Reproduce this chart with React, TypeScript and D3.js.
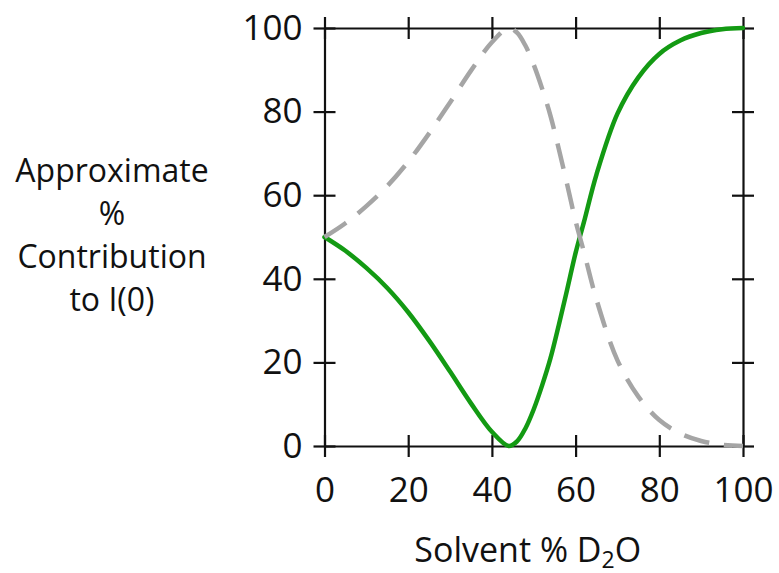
import React, { useEffect, useRef } from "react";
import * as d3 from "d3";

// % D2O in the solvent
const solvent = [0, 5, 10, 15, 20, 25, 30, 35, 40, 44, 46, 48, 50, 52, 54, 56, 58, 60, 62, 65, 70, 75, 80, 85, 90, 95, 100];
// green solid curve
const greenVals = [50, 46.7, 42.6, 37.8, 32, 25.2, 17.8, 10.2, 3.4, 0, 1.1, 4.2, 8.8, 14.5, 21, 29, 37.5, 46.2, 53.6, 65, 79.5, 88.2, 93.8, 97, 98.8, 99.7, 100];
// gray dashed curve
const grayVals = [50, 53.3, 57.4, 62.2, 68, 74.8, 82.2, 89.8, 96.6, 100, 98.9, 95.8, 91.2, 85.5, 79, 71, 62.5, 53.8, 46.4, 35, 20.5, 11.8, 6.2, 3, 1.2, 0.3, 0];

const xTicks = [0, 20, 40, 60, 80, 100];
const yTicks = [0, 20, 40, 60, 80, 100];
const yTitle = ["Approximate", "%", "Contribution", "to I(0)"];

const App = () => {
  const ref = useRef<SVGSVGElement>(null);

  useEffect(() => {
    const width = 779,
      height = 573,
      left = 324.5,
      right = 743,
      top = 28,
      bottom = 446,
      font = "'Open Sans', 'DejaVu Sans', sans-serif";

    const x = d3.scaleLinear().domain([0, 100]).range([left, right]);
    const y = d3.scaleLinear().domain([0, 100]).range([bottom, top]);

    const svg = d3.select(ref.current);
    svg.selectAll("*").remove();
    svg.attr("width", width).attr("height", height);

    const styleAxis = (g: any, horizontal: boolean) => {
      g.select(".domain").attr("stroke", "#111").attr("stroke-width", 2.2);
      g.selectAll(".tick line")
        .attr("stroke", "#111")
        .attr("stroke-width", 2.2)
        .attr(horizontal ? "y1" : "x1", -11)
        .attr(horizontal ? "y2" : "x2", 11);
      g.selectAll(".tick text")
        .attr("font-family", font)
        .attr("font-size", 35)
        .attr("fill", "#111");
    };

    // bottom
    const gb = svg
      .append("g")
      .attr("transform", "translate(0," + bottom + ")")
      .call(d3.axisBottom(x).tickValues(xTicks).tickSize(11).tickSizeOuter(0).tickPadding(20));
    styleAxis(gb, true);

    // left
    const gl = svg
      .append("g")
      .attr("transform", "translate(" + left + ",0)")
      .call(d3.axisLeft(y).tickValues(yTicks).tickSize(11).tickSizeOuter(0).tickPadding(11));
    styleAxis(gl, false);

    // top
    const gt = svg
      .append("g")
      .attr("transform", "translate(0," + top + ")")
      .call(d3.axisTop(x).tickValues(xTicks).tickSize(11).tickSizeOuter(0).tickFormat(() => ""));
    styleAxis(gt, true);

    // right
    const gr = svg
      .append("g")
      .attr("transform", "translate(" + right + ",0)")
      .call(d3.axisRight(y).tickValues(yTicks).tickSize(11).tickSizeOuter(0).tickFormat(() => ""));
    styleAxis(gr, false);

    const line = d3
      .line<number>()
      .x((d, i) => x(solvent[i]))
      .y(d => y(d))
      .curve(d3.curveCatmullRom.alpha(0.5));

    svg
      .append("path")
      .attr("d", line(greenVals))
      .attr("fill", "none")
      .attr("stroke", "#139a13")
      .attr("stroke-width", 4.5)
      .attr("stroke-linecap", "round");

    svg
      .append("path")
      .attr("d", line(grayVals))
      .attr("fill", "none")
      .attr("stroke", "#a5a5a5")
      .attr("stroke-width", 4.5)
      .attr("stroke-dasharray", "26 15");

    // y title
    svg
      .append("g")
      .selectAll("text")
      .data(yTitle)
      .enter()
      .append("text")
      .attr("x", 112)
      .attr("y", (d, i) => 182 + i * 43)
      .attr("text-anchor", "middle")
      .attr("font-family", font)
      .attr("font-size", 32)
      .attr("fill", "#111")
      .text(d => d);

    // x title
    const xt = svg
      .append("text")
      .attr("x", (left + right) / 2 - 6)
      .attr("y", 562)
      .attr("text-anchor", "middle")
      .attr("font-family", font)
      .attr("font-size", 34)
      .attr("fill", "#111");
    xt.append("tspan").text("Solvent % D");
    xt.append("tspan").attr("font-size", 23).attr("dy", 6).text("2");
    xt.append("tspan").attr("dy", -6).text("O");
  }, []);

  return (
    <div style={{ position: "absolute", left: 0, top: 0 }}>
      <svg ref={ref} style={{ display: "block", background: "#fff" }}></svg>
    </div>
  );
};

export default App;
